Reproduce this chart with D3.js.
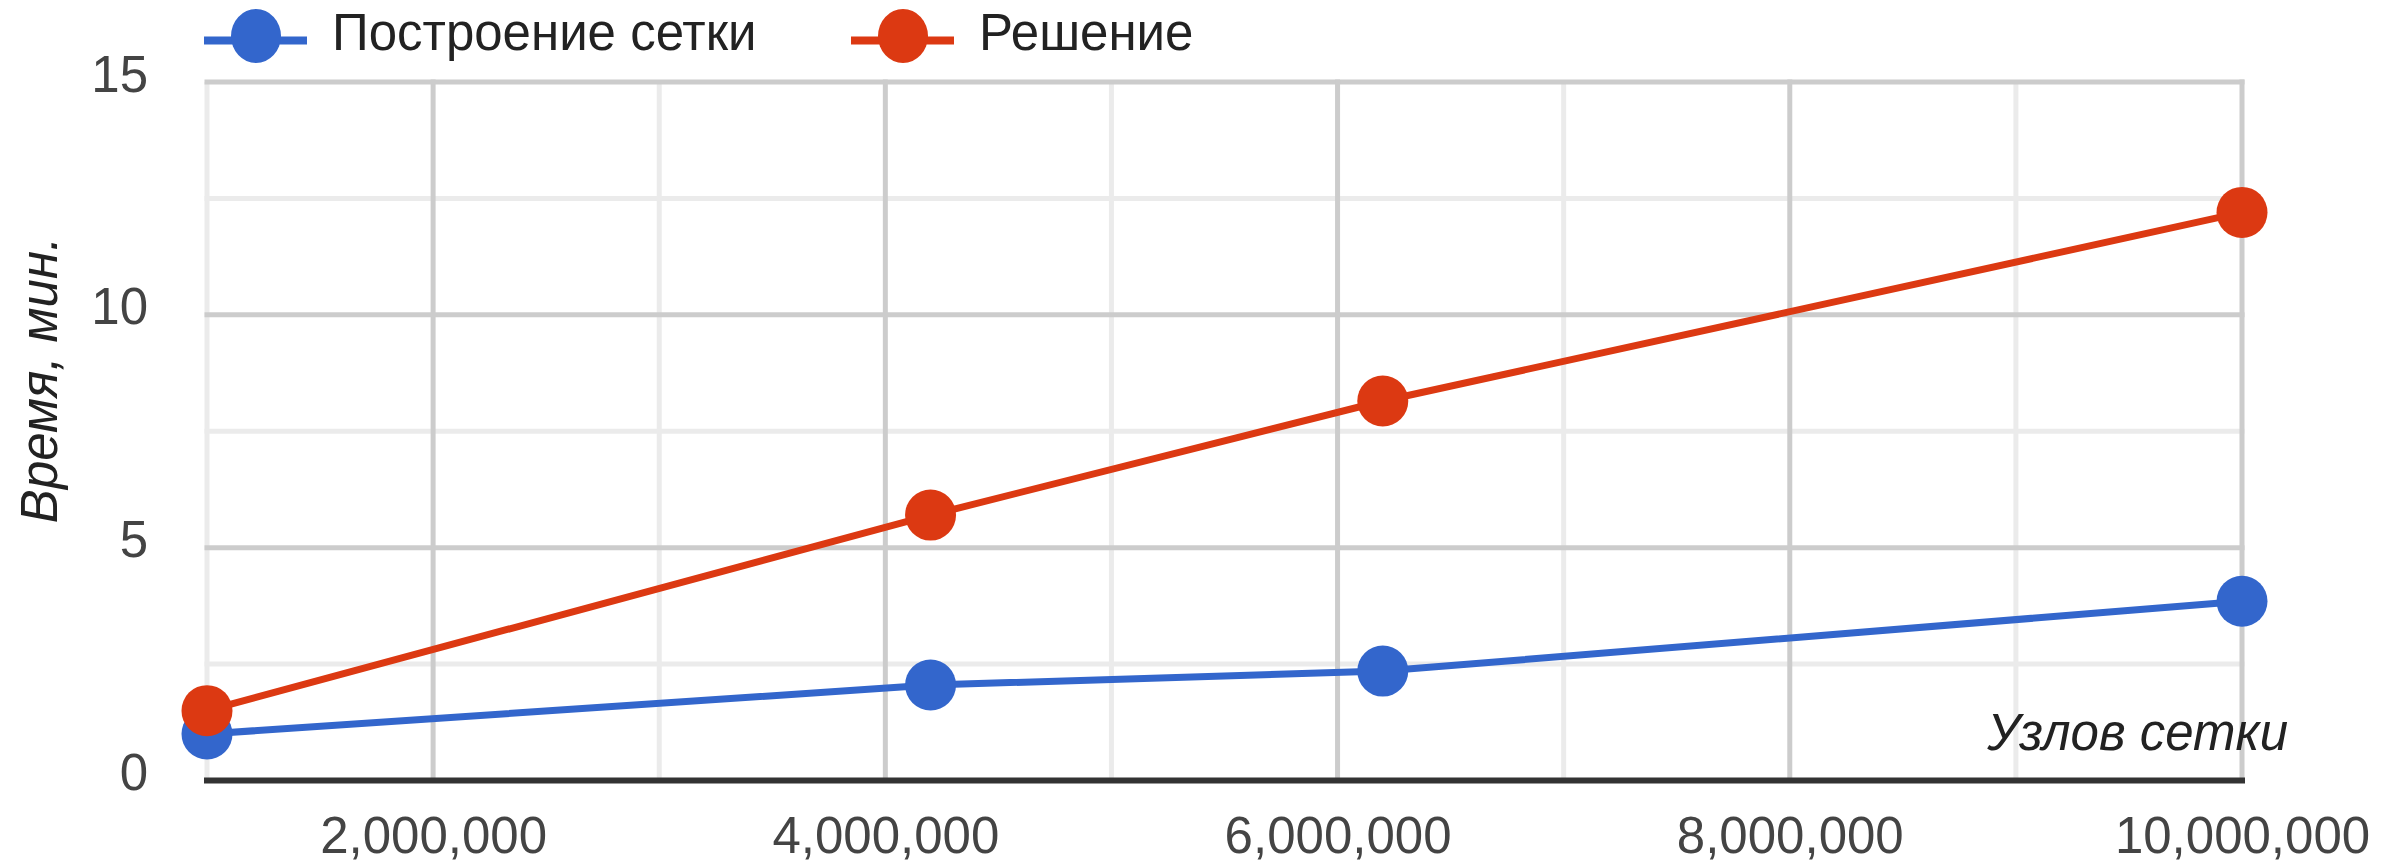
<!DOCTYPE html>
<html lang="ru">
<head>
<meta charset="utf-8">
<title>Время построения сетки и решения</title>
<script src="https://cdn.jsdelivr.net/npm/d3@7"></script>
<style>
  html, body { margin: 0; padding: 0; background: #fff; }
  svg { display: block; font-family: Arial, "Liberation Sans", sans-serif; }
</style>
</head>
<body>
<script>
// data
var nodes = [1000000, 4200000, 6200000, 10000000];   // Узлов сетки
var meshTime = [1.0, 2.05, 2.35, 3.85];              // Построение сетки
var solveTime = [1.5, 5.7, 8.15, 12.2];              // Решение
var seriesNames = ["Построение сетки", "Решение"];
var seriesColors = ["#3366cc", "#dc3912"];
var yTicks = [0, 5, 10, 15];
var yMinor = [2.5, 7.5, 12.5];
var xTicks = [2000000, 4000000, 6000000, 8000000, 10000000];
var xMinor = [1000000, 3000000, 5000000, 7000000, 9000000];

var w = 2395, h = 863;
// plot area (window.top is reserved, so own names here)
var plotL = 207, plotR = 2242, plotT = 82, plotB = 780.5;

var svg = d3.select("body").append("svg")
  .attr("width", w)
  .attr("height", h);

var x = d3.scaleLinear().domain([1000000, 10000000]).range([plotL, plotR]);
var y = d3.scaleLinear().domain([0, 15]).range([plotB, plotT]);

// minor gridlines
svg.append("g").selectAll("line")
  .data(yMinor).enter().append("line")
  .attr("x1", plotL - 2.5).attr("x2", plotR + 2.5)
  .attr("y1", function(d){ return y(d) }).attr("y2", function(d){ return y(d) })
  .attr("stroke", "#ebebeb").attr("stroke-width", 5);
svg.append("g").selectAll("line")
  .data(xMinor).enter().append("line")
  .attr("x1", function(d){ return x(d) }).attr("x2", function(d){ return x(d) })
  .attr("y1", plotT).attr("y2", plotB)
  .attr("stroke", "#ebebeb").attr("stroke-width", 5);

// major gridlines
svg.append("g").selectAll("line")
  .data(yTicks.filter(function(d){ return d > 0 })).enter().append("line")
  .attr("x1", plotL - 2.5).attr("x2", plotR + 2.5)
  .attr("y1", function(d){ return y(d) }).attr("y2", function(d){ return y(d) })
  .attr("stroke", "#cccccc").attr("stroke-width", 5);
svg.append("g").selectAll("line")
  .data(xTicks).enter().append("line")
  .attr("x1", function(d){ return x(d) }).attr("x2", function(d){ return x(d) })
  .attr("y1", plotT - 2.5).attr("y2", plotB)
  .attr("stroke", "#cccccc").attr("stroke-width", 5);

// baseline
svg.append("line")
  .attr("x1", plotL - 3).attr("x2", plotR + 3)
  .attr("y1", y(0)).attr("y2", y(0))
  .attr("stroke", "#333333").attr("stroke-width", 6);

// y axis labels
var yAxis = d3.axisLeft(y).tickValues(yTicks).tickSize(0).tickPadding(0);
var gy = svg.append("g").attr("transform", "translate(148,0)").call(yAxis);
gy.select(".domain").remove();
gy.selectAll("text")
  .attr("font-family", "Arial, 'Liberation Sans', sans-serif")
  .attr("font-size", "51px")
  .attr("fill", "#444444")
  .attr("dy", "9px");

// x axis labels
var xAxis = d3.axisBottom(x).tickValues(xTicks).tickSize(0).tickPadding(0)
  .tickFormat(d3.format(","));
var gx = svg.append("g").attr("transform", "translate(0,853)").call(xAxis);
gx.select(".domain").remove();
gx.selectAll("text")
  .attr("font-family", "Arial, 'Liberation Sans', sans-serif")
  .attr("font-size", "51px")
  .attr("fill", "#444444")
  .attr("y", 0)
  .attr("dy", "0");

// axis titles
svg.append("text")
  .text("Время, мин.")
  .attr("transform", "translate(57,380) rotate(-90)")
  .attr("text-anchor", "middle")
  .attr("font-size", "51px")
  .attr("font-style", "italic")
  .attr("fill", "#222222");
svg.append("text")
  .text("Узлов сетки")
  .attr("x", 2288).attr("y", 750)
  .attr("text-anchor", "end")
  .attr("font-size", "51px")
  .attr("font-style", "italic")
  .attr("fill", "#222222");

// series
var series = [meshTime, solveTime];
var line = d3.line()
  .x(function(d, i){ return x(nodes[i]) })
  .y(function(d){ return y(d) });

series.forEach(function(vals, s){
  var g = svg.append("g");
  g.append("path")
    .attr("d", line(vals))
    .attr("fill", "none")
    .attr("stroke", seriesColors[s])
    .attr("stroke-width", 7);
  g.selectAll("circle")
    .data(vals).enter().append("circle")
    .attr("cx", function(d, i){ return x(nodes[i]) })
    .attr("cy", function(d){ return y(d) })
    .attr("r", 25.5)
    .attr("fill", seriesColors[s]);
});

// legend
var legendX = [204, 851];
var leg = svg.selectAll(".legend")
  .data(seriesNames).enter().append("g")
  .attr("class", "legend")
  .attr("transform", function(d, i){ return "translate(" + legendX[i] + ",0)" });
leg.append("line")
  .attr("x1", 0).attr("x2", 103)
  .attr("y1", 40.5).attr("y2", 40.5)
  .attr("stroke", function(d, i){ return seriesColors[i] })
  .attr("stroke-width", 8);
leg.append("ellipse")
  .attr("cx", 52).attr("cy", 36)
  .attr("rx", 25).attr("ry", 27)
  .attr("fill", function(d, i){ return seriesColors[i] });
leg.append("text")
  .text(function(d){ return d })
  .attr("x", 128).attr("y", 50)
  .attr("font-size", "51px")
  .attr("fill", "#222222");
</script>
</body>
</html>
